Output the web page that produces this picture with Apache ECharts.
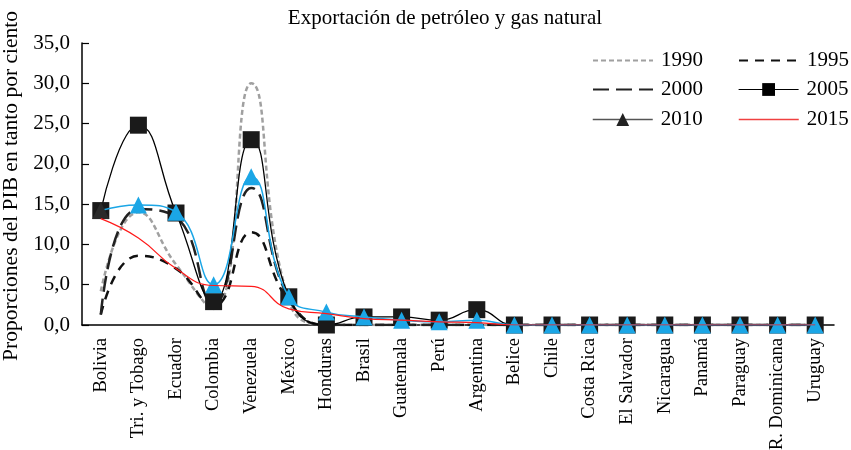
<!DOCTYPE html>
<html>
<head>
<meta charset="utf-8">
<script src="https://cdn.jsdelivr.net/npm/echarts@6/dist/echarts.min.js"></script>
<style>html,body{margin:0;padding:0;background:#fff}#c{width:851px;height:450px}</style>
</head>
<body>
<div id="c"></div>
<script>
const categories = ["Bolivia","Tri. y Tobago","Ecuador","Colombia","Venezuela","México","Honduras","Brasil","Guatemala","Perú","Argentina","Belice","Chile","Costa Rica","El Salvador","Nicaragua","Panamá","Paraguay","R. Dominicana","Uruguay"];
const v1990 = [4.2, 14.0, 7.5, 2.0, 30.0, 3.0, 0, 0, 0, 0, 0, 0, 0, 0, 0, 0, 0, 0, 0, 0];
const v1995 = [1.3, 8.6, 7.0, 2.4, 11.5, 3.0, 0, 0, 0, 0, 0, 0, 0, 0, 0, 0, 0, 0, 0, 0];
const v2000 = [1.3, 14.4, 13.4, 2.6, 17.0, 3.3, 0, 0, 0, 0, 0, 0, 0, 0, 0, 0, 0, 0, 0, 0];
const v2005 = [14.2, 24.8, 13.9, 2.9, 23.0, 3.5, 0, 1.0, 1.0, 0.6, 1.9, 0, 0, 0, 0, 0, 0, 0, 0, 0];
const v2010 = [14.2, 14.9, 14.0, 5.0, 18.4, 3.5, 1.6, 1.0, 0.6, 0.4, 0.6, 0, 0, 0, 0, 0, 0, 0, 0, 0];
const v2015 = [13.2, 10.8, 7.0, 4.9, 4.8, 2.0, 1.4, 0.8, 0.6, 0.4, 0.3, 0, 0, 0, 0, 0, 0, 0, 0, 0];
const yTicks = [0, 5, 10, 15, 20, 25, 30, 35];
const titleText = "Exportación de petróleo y gas natural";
const yName = "Proporciones del PIB en tanto por ciento";

const FONT = "Liberation Serif";
const chart = echarts.init(document.getElementById('c'), null, {renderer: 'canvas'});

function legendAt(name, left, top, extra) {
  return {
    data: [Object.assign({name: name}, extra || {itemStyle: {opacity: 0}})],
    left: left, top: top, itemWidth: 60, itemHeight: 16, padding: 0,
    textStyle: {fontFamily: FONT, fontSize: 21, color: '#000', padding: [0, 0, 0, 3]},
    selectedMode: false
  };
}

const option = {
  animation: false,
  backgroundColor: '#fff',
  graphic: [{
    type: 'text', x: 445, y: 8,
    style: {text: titleText, font: '21px "' + FONT + '"', fill: '#000', textAlign: 'center'}
  }],
  grid: {left: 82, right: 17, top: 43, bottom: 125, containLabel: false, outerBoundsMode: 'none'},
  legend: [
    legendAt('1990', 592, 50),
    legendAt('1995', 738, 50),
    legendAt('2000', 592, 79),
    legendAt('2005', 738, 79, {itemStyle: {color: '#000'}, lineStyle: {color: '#000', width: 1.2}}),
    legendAt('2010', 592, 109, {itemStyle: {color: '#222'}, lineStyle: {color: '#555', width: 1.5}}),
    legendAt('2015', 738, 109, {itemStyle: {opacity: 0}, lineStyle: {color: '#f04040', width: 1.5}})
  ],
  xAxis: {
    type: 'category', data: categories, boundaryGap: true,
    axisLine: {lineStyle: {color: '#000', width: 1.5}},
    axisTick: {show: false},
    axisLabel: {rotate: 90, interval: 0, fontFamily: FONT, fontSize: 18.5, color: '#000', margin: 13}
  },
  yAxis: {
    type: 'value', min: yTicks[0], max: yTicks[yTicks.length - 1], interval: yTicks[1] - yTicks[0],
    name: yName, nameLocation: 'middle', nameRotate: 90, nameGap: 56,
    nameTextStyle: {fontFamily: FONT, fontSize: 21.5, color: '#000', padding: [0, 4, 0, 0]},
    axisLine: {show: true, lineStyle: {color: '#000', width: 1.5}},
    axisTick: {show: true, inside: true, length: 7, lineStyle: {color: '#000', width: 1.2}},
    splitLine: {show: false},
    axisLabel: {fontFamily: FONT, fontSize: 21, color: '#000', margin: 12,
      formatter: v => v.toFixed(1).replace('.', ',')}
  },
  series: [
    {name: '1990', type: 'line', data: v1990, smooth: true, symbol: 'none', z: 2,
      itemStyle: {color: '#a0a0a0'}, lineStyle: {color: '#a0a0a0', width: 2.5, type: [5, 3]}},
    {name: '1995', type: 'line', data: v1995, smooth: true, symbol: 'none', z: 3,
      itemStyle: {color: '#111'}, lineStyle: {color: '#111', width: 2.5, type: [9, 7]}},
    {name: '2000', type: 'line', data: v2000, smooth: true, symbol: 'none', z: 4,
      itemStyle: {color: '#222'}, lineStyle: {color: '#222', width: 2.5, type: [16, 7]}},
    {name: '2005', type: 'line', data: v2005, smooth: true, symbol: 'rect', symbolSize: 17, z: 5,
      itemStyle: {color: '#1a1a1a'}, lineStyle: {color: '#000', width: 1.3}},
    {name: '2010', type: 'line', smooth: true, symbol: 'triangle', symbolSize: 17, z: 6,
      data: v2010.map((v, i) => i === 0 ? {value: v, itemStyle: {color: '#2a2a2a'}} : v),
      itemStyle: {color: '#1ba6e6'}, lineStyle: {color: '#1ba6e6', width: 1.5}},
    {name: '2015', type: 'line', data: v2015, smooth: true, symbol: 'none', z: 7,
      itemStyle: {color: '#ff1a1a'}, lineStyle: {color: '#ff1a1a', width: 1.2}}
  ]
};
chart.setOption(option);
</script>
</body>
</html>
